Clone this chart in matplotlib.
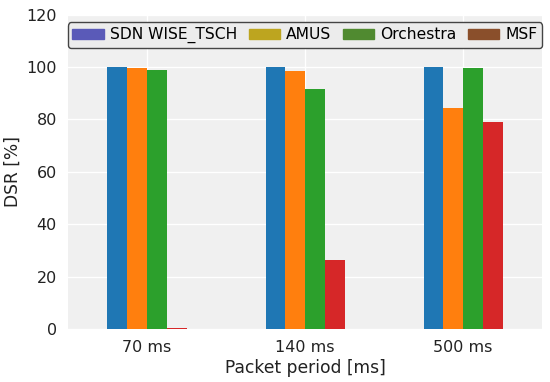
import numpy as np
import matplotlib
matplotlib.use("Agg")
import matplotlib.pyplot as plt
from matplotlib.patches import Patch

periods = ["70 ms", "140 ms", "500 ms"]
protocols = ["SDN WISE_TSCH", "AMUS", "Orchestra", "MSF"]
dsr = {
    "SDN WISE_TSCH": [100.0, 100.0, 100.0],
    "AMUS": [99.8, 98.5, 84.5],
    "Orchestra": [99.0, 91.5, 99.8],
    "MSF": [0.3, 26.5, 79.0],
}
bar_colors = ["#1f77b4", "#ff7f0e", "#2ca02c", "#d62728"]
legend_colors = ["#5a5ab8", "#bda51f", "#508a30", "#8a4f2b"]

plt.rcParams["font.family"] = "DejaVu Sans"

fig = plt.figure(figsize=(5.5, 3.82), dpi=100)
ax = fig.add_axes([0.1236, 0.1387, 0.862, 0.8230])
ax.set_facecolor("#f0f0f0")

x = np.arange(len(periods))
w = 0.125
for i, p in enumerate(protocols):
    ax.bar(x - 1.5 * w + i * w, dsr[p], width=w, color=bar_colors[i], zorder=3)

ax.set_xticks(x)
ax.set_xticklabels(periods)
ax.set_xlim(-0.5, 2.5)
ax.set_ylim(0, 120)
ax.set_yticks(np.arange(0, 121, 20))
ax.grid(True, color="white", linewidth=1.0, zorder=0)
for s in ax.spines.values():
    s.set_visible(False)
ax.tick_params(length=0, colors="#222222", labelsize=11.5, pad=8)
ax.set_xlabel("Packet period [ms]", fontsize=12.3, color="#222222", labelpad=3)
ax.set_ylabel("DSR [%]", fontsize=12.3, color="#222222", labelpad=3)

# legend patches use the darker shades seen in the reference key
handles = [Patch(color=c) for c in legend_colors]
leg = ax.legend(handles, protocols, loc="upper center", bbox_to_anchor=(0.5, 0.985),
                ncol=4, frameon=True, fontsize=11.2, handlelength=2.0,
                handleheight=0.6, columnspacing=0.75, handletextpad=0.4,
                borderpad=0.3, borderaxespad=0.2, fancybox=True)
leg.get_frame().set_facecolor("#ececec")
leg.get_frame().set_edgecolor("#444444")
leg.get_frame().set_alpha(1.0)

fig.savefig("out.png", dpi=100)
